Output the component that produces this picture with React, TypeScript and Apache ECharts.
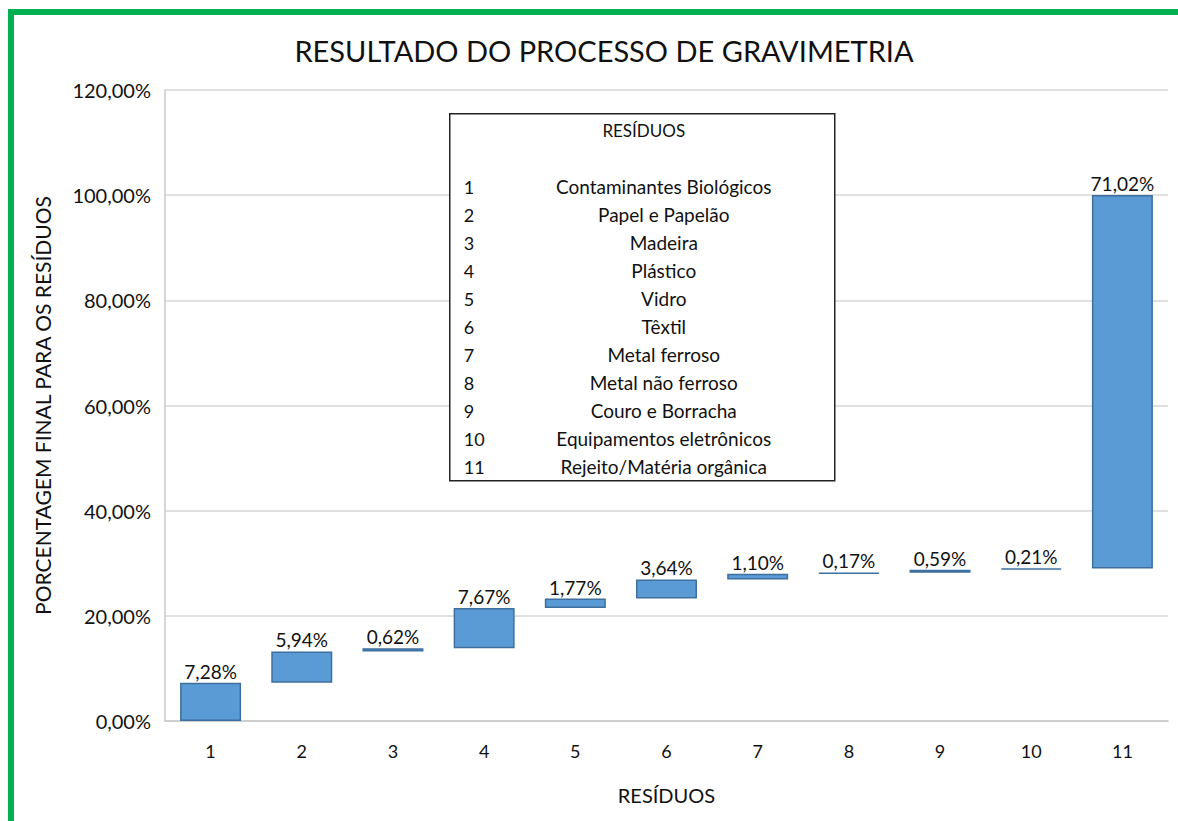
import React, { useEffect, useRef } from "react";
import * as echarts from "echarts";

const categories = ["1", "2", "3", "4", "5", "6", "7", "8", "9", "10", "11"];
const values = [7.28, 5.94, 0.62, 7.67, 1.77, 3.64, 1.1, 0.17, 0.59, 0.21, 71.02];
const residueNames = [
  "Contaminantes Biológicos",
  "Papel e Papelão",
  "Madeira",
  "Plástico",
  "Vidro",
  "Têxtil",
  "Metal ferroso",
  "Metal não ferroso",
  "Couro e Borracha",
  "Equipamentos eletrônicos",
  "Rejeito/Matéria orgânica",
];
const yTicks = [0, 20, 40, 60, 80, 100, 120];

const FONT = "Lato, 'Open Sans', sans-serif";
const fmt = (v: number) => v.toFixed(2).replace(".", ",") + "%";

export default function App() {
  const ref = useRef<HTMLDivElement>(null);
  useEffect(() => {
    document.body.style.margin = "0";
    const chart = echarts.init(ref.current!, null, { renderer: "svg" });
    const bases: number[] = [];
    let acc = 0;
    values.forEach((v) => {
      bases.push(+acc.toFixed(2));
      acc += v;
    });

    const legendTop = 113;
    const legendLeft = 449;
    const legendChildren: any[] = [
      {
        type: "rect",
        z: 100,
        shape: { x: 0, y: 0, width: 385, height: 367 },
        style: { fill: "#ffffff", stroke: "#222", lineWidth: 1.5 },
      },
      {
        type: "text",
        z: 101,
        x: 194,
        y: 17,
        style: { text: "RESÍDUOS", font: `17px ${FONT}`, fill: "#111", align: "center", verticalAlign: "middle" },
      },
    ];
    residueNames.forEach((n, i) => {
      const y = 73 + i * 28;
      legendChildren.push({
        type: "text",
        z: 101,
        x: 14,
        y,
        style: { text: categories[i], font: `18px ${FONT}`, fill: "#111", align: "left", verticalAlign: "middle" },
      });
      legendChildren.push({
        type: "text",
        z: 101,
        x: 214,
        y,
        style: { text: n, font: `19px ${FONT}`, fill: "#111", align: "center", verticalAlign: "middle" },
      });
    });

    chart.setOption({
      animation: false,
      backgroundColor: "#fff",
      textStyle: { fontFamily: FONT },
      title: {
        text: "RESULTADO DO PROCESSO DE GRAVIMETRIA",
        left: 599,
        top: 31,
        textAlign: "center",
        textStyle: { fontSize: 29, fontWeight: "normal", color: "#111", fontFamily: FONT },
      },
      grid: { left: 165, right: 10, top: 90, bottom: 100, containLabel: false },
      xAxis: {
        type: "category",
        data: categories,
        name: "RESÍDUOS",
        nameLocation: "middle",
        nameGap: 64,
        nameTextStyle: { fontSize: 20, color: "#111", fontFamily: FONT },
        axisLine: { lineStyle: { color: "#c8c8c8", width: 1.5 } },
        axisTick: { show: false },
        axisLabel: { fontSize: 18, color: "#111", margin: 21, fontFamily: FONT },
      },
      yAxis: {
        type: "value",
        min: 0,
        max: 120,
        interval: 20,
        name: "PORCENTAGEM FINAL PARA OS RESÍDUOS",
        nameLocation: "middle",
        nameGap: 112,
        nameTextStyle: { fontSize: 21, color: "#111", fontFamily: FONT },
        axisLine: { show: true, lineStyle: { color: "#c8c8c8", width: 1.5 } },
        axisTick: { show: false },
        splitLine: { lineStyle: { color: "#d6d6d6", width: 1.5 } },
        axisLabel: {
          fontSize: 20,
          color: "#111",
          margin: 14,
          fontFamily: FONT,
          formatter: (v: number) => (yTicks.includes(v) ? fmt(v) : ""),
        },
      },
      series: [
        {
          type: "bar",
          stack: "w",
          data: bases,
          itemStyle: { color: "transparent" },
          barWidth: 61,
          silent: true,
        },
        {
          type: "bar",
          stack: "w",
          data: values,
          barWidth: 61,
          itemStyle: { color: "#5b9bd5", borderColor: "#3e6f9e", borderWidth: 1.5 },
          label: {
            show: true,
            position: "top",
            distance: 2,
            fontSize: 19,
            color: "#111",
            fontFamily: FONT,
            formatter: (p: any) => fmt(p.value),
          },
        },
      ],
      graphic: [
        { type: "group", left: legendLeft, top: legendTop, z: 100, children: legendChildren },
        { type: "rect", z: 101, shape: { x: 8, y: 9, width: 6, height: 812 }, style: { fill: "#00b050" } },
        { type: "rect", z: 101, shape: { x: 8, y: 9, width: 1170, height: 6 }, style: { fill: "#00b050" } },
      ],
    });
    return () => chart.dispose();
  }, []);
  return <div ref={ref} style={{ width: 1178, height: 821 }} />;
}
